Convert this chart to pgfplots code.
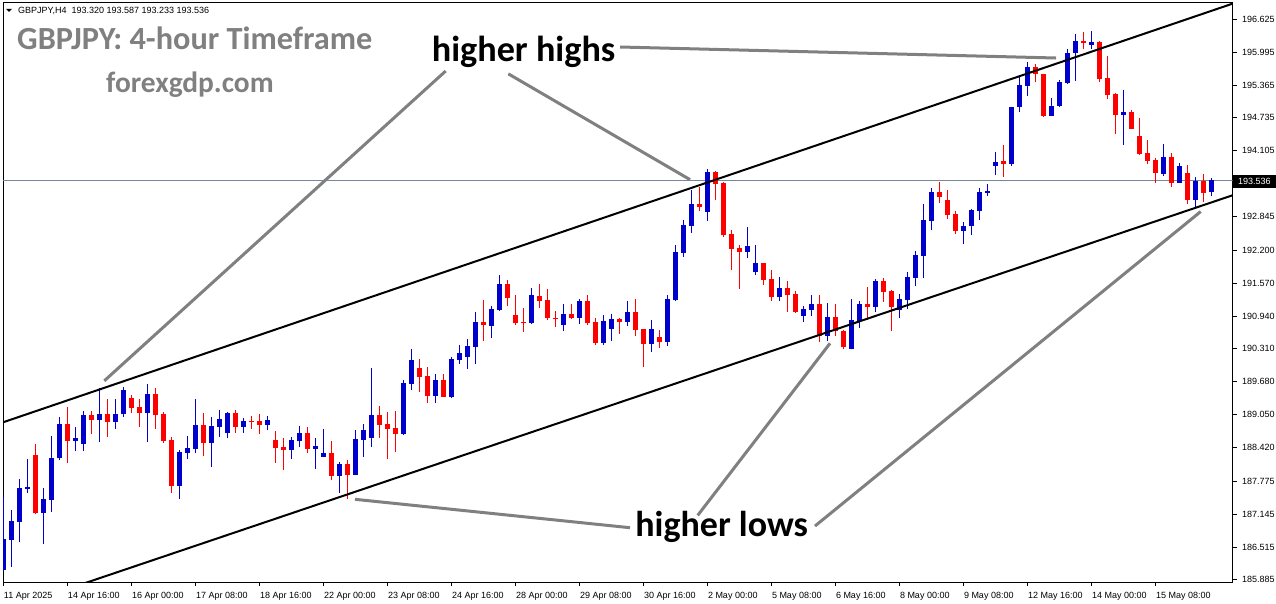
\documentclass[border=0pt]{standalone}
\usepackage{pgfplots}
\pgfplotsset{compat=1.18}
\usepackage{pgfplotstable}
\usepackage{fontspec}
\setmainfont{Liberation Sans}
\newfontfamily\carlito{Carlito}
\definecolor{bull}{RGB}{0,0,205}
\definecolor{bear}{RGB}{255,0,0}
\definecolor{ptr}{RGB}{128,128,128}
\definecolor{bid}{RGB}{119,136,153}
\newcommand\tickfont{\fontsize{9bp}{10bp}\selectfont}

\pgfplotstableread{
i o h l c
0 186.074 187.478 186.060 186.667
1 186.648 187.223 186.137 187.012
2 186.999 187.817 186.616 187.645
3 187.632 188.200 187.555 187.664
5 187.159 187.651 186.565 187.434
6 187.421 188.641 187.191 188.219
7 188.213 189.005 188.181 188.871
9 188.551 188.807 188.360 188.602
10 188.494 189.120 188.360 189.043
12 188.954 189.567 188.532 189.062
14 188.915 189.349 188.775 189.062
15 189.056 189.573 189.011 189.522
18 189.088 189.637 188.532 189.445
22 187.689 188.372 187.440 188.334
23 188.321 188.641 188.206 188.411
24 188.398 189.343 188.309 188.851
26 188.513 189.011 188.053 188.832
27 188.819 189.139 188.628 188.966
28 188.705 189.100 188.609 189.081
30 188.819 188.992 188.705 188.928
33 188.858 189.024 188.755 188.947
36 188.372 188.621 188.200 188.564
37 188.545 188.838 188.436 188.698
39 188.391 188.602 188.008 188.449
40 188.244 188.775 188.232 188.321
42 187.881 188.149 187.555 188.104
44 187.900 188.755 187.887 188.583
45 188.570 188.877 188.244 188.755
46 188.608 189.943 188.436 189.043
50 188.679 189.713 188.660 189.656
51 189.643 190.307 189.522 190.096
54 189.407 189.828 189.279 189.713
56 189.394 190.160 189.375 190.115
57 190.103 190.384 190.013 190.230
58 190.160 190.499 189.924 190.365
59 190.352 191.016 190.020 190.824
61 190.754 191.131 190.524 191.074
62 191.054 191.725 191.042 191.553
66 190.805 191.476 190.793 191.342
70 190.774 191.169 190.659 190.978
72 190.908 191.265 190.793 191.227
75 190.429 190.959 190.390 190.844
76 190.697 190.978 190.467 190.882
78 190.831 191.227 190.754 191.016
81 190.410 190.863 190.256 190.690
83 190.448 191.342 190.371 191.265
84 191.252 192.300 191.233 192.166
85 192.153 192.779 192.076 192.683
86 192.670 193.353 192.536 193.085
88 192.938 193.756 192.766 193.698
93 192.172 192.644 192.057 192.280
94 191.782 192.299 191.725 191.954
97 191.309 191.686 191.226 191.476
100 190.945 191.131 190.831 191.073
101 191.060 191.341 190.945 191.169
103 190.562 191.188 190.467 190.926
106 190.313 191.265 190.300 190.862
107 190.850 191.226 190.716 191.169
109 191.112 191.648 191.022 191.610
112 191.054 191.361 190.907 191.265
113 191.246 191.782 191.080 191.686
114 191.673 192.184 191.520 192.108
115 192.095 193.085 191.673 192.778
116 192.765 193.391 192.587 193.315
120 192.574 192.740 192.318 192.663
121 192.663 192.989 192.491 192.978
122 192.957 193.385 192.778 193.315
123 193.302 193.462 193.245 193.334
124 193.819 194.087 193.640 193.896
126 193.851 194.950 193.819 194.937
127 194.950 195.537 194.841 195.365
128 195.352 195.812 195.160 195.709
131 194.777 195.109 194.770 194.962
132 194.969 195.460 194.950 195.422
133 195.403 196.054 195.390 195.978
134 195.978 196.342 195.448 196.208
136 196.137 196.405 196.054 196.182
140 194.796 195.269 194.215 194.841
145 193.666 194.234 193.628 193.985
147 193.494 193.870 193.490 193.813
149 193.168 193.602 193.034 193.526
151 193.320 193.587 193.233 193.536
}\bull

\pgfplotstableread{
i o h l c
4 188.277 188.487 187.150 187.159
8 188.871 189.196 188.130 188.551
11 189.037 189.113 188.679 188.954
13 189.062 189.349 188.628 188.915
16 189.369 189.426 189.075 189.183
17 189.196 189.343 188.819 189.088
19 189.445 189.554 188.781 189.049
20 189.062 189.107 188.513 188.551
21 188.564 188.622 187.555 187.689
25 188.851 189.088 188.264 188.513
29 189.081 189.139 188.705 188.819
31 188.928 189.024 188.781 188.915
32 188.928 189.062 188.685 188.858
34 188.564 188.736 188.130 188.417
35 188.430 188.596 187.989 188.372
38 188.698 188.813 188.321 188.391
41 188.321 188.545 187.791 187.881
43 188.104 188.181 187.440 187.900
47 189.043 189.215 188.608 188.858
48 188.870 189.100 188.200 188.781
49 188.794 189.119 188.340 188.685
52 189.943 190.115 189.490 189.777
53 189.790 189.956 189.279 189.407
55 189.713 189.828 189.388 189.394
60 190.824 191.239 190.467 190.760
63 191.553 191.629 191.137 191.291
64 190.959 191.342 190.774 190.805
65 190.825 191.093 190.639 190.812
67 191.323 191.553 191.099 191.233
68 191.246 191.457 190.869 190.908
69 190.901 191.035 190.735 190.888
71 190.978 191.169 190.888 190.908
73 191.227 191.342 190.774 190.805
74 190.825 190.901 190.390 190.429
77 190.882 190.901 190.601 190.831
79 191.016 191.265 190.563 190.678
80 190.690 190.697 189.969 190.410
82 190.537 190.671 190.333 190.448
87 193.085 193.417 192.957 193.034
89 193.698 193.717 193.162 193.475
90 193.490 193.515 192.459 192.500
91 192.510 192.587 191.820 192.223
92 192.242 192.299 191.456 192.172
95 191.954 191.960 191.539 191.629
96 191.648 191.820 191.226 191.303
98 191.476 191.610 191.022 191.341
99 191.361 191.418 191.003 191.022
102 191.169 191.341 190.447 190.562
104 190.926 191.169 190.562 190.645
105 190.645 190.677 190.313 190.352
108 191.169 191.495 190.862 191.112
110 191.610 191.667 191.214 191.399
111 191.418 191.437 190.658 191.112
117 193.315 193.506 193.104 193.225
118 193.161 193.353 192.804 192.880
119 192.893 192.951 192.510 192.574
125 193.909 194.215 193.609 193.858
129 195.709 195.761 195.428 195.582
130 195.575 195.580 194.758 194.777
135 196.208 196.386 196.054 196.176
137 196.188 196.208 195.428 195.486
138 195.505 195.920 195.096 195.173
139 195.199 195.218 194.426 194.796
141 194.841 194.879 194.515 194.522
142 194.388 194.732 194.017 194.049
143 194.062 194.311 193.845 193.915
144 193.928 193.960 193.494 193.685
146 193.985 194.062 193.411 193.494
148 193.679 193.832 193.091 193.168
150 193.526 193.660 193.130 193.302
}\bear

\begin{document}
\begin{tikzpicture}
\path[use as bounding box] (0,0) rectangle (1276bp,604bp);
\fill[white] (0,0) rectangle (1276bp,604bp);
\begin{axis}[
  at={(3bp,22bp)}, anchor=south west,
  scale only axis, width=1229.5bp, height=579bp,
  xmin=-0.0375, xmax=153.65, ymin=185.844, ymax=196.936,
  axis line style={black, line width=1bp},
  xtick={0,8,...,144},
  xticklabels={11 Apr 2025, 14 Apr 16:00, 16 Apr 00:00, 17 Apr 08:00, 18 Apr 16:00, 22 Apr 00:00, 23 Apr 08:00, 24 Apr 16:00, 28 Apr 00:00, 29 Apr 08:00, 30 Apr 16:00, 2 May 00:00, 5 May 08:00, 6 May 16:00, 8 May 00:00, 9 May 08:00, 12 May 16:00, 14 May 00:00, 15 May 08:00},
  ytick={196.625,195.995,195.365,194.735,194.105,192.845,192.200,191.570,190.940,190.310,189.680,189.050,188.420,187.775,187.145,186.515,185.885},
  yticklabels={196.625,195.995,195.365,194.735,194.105,192.845,192.200,191.570,190.940,190.310,189.680,189.050,188.420,187.775,187.145,186.515,185.885},
  xtick pos=bottom, ytick pos=right, yticklabel pos=right,
  tick align=outside, major tick length=4bp,
  tick style={black, line width=0.8bp},
  xticklabel style={anchor=north west, inner sep=0pt, font=\tickfont, xshift=0.5bp, yshift=-6bp},
  yticklabel style={anchor=west, inner sep=0pt, font=\tickfont, xshift=5.5bp},
  clip=true,
]
% bid line
\addplot[bid, line width=0.8bp] coordinates {(-1,193.536) (160,193.536)};
% bull candles
\addplot[draw=none, mark=none, error bars/.cd, y dir=plus, y explicit, error mark=none,
  error bar style={line width=1bp, draw=bull}]
  table[x=i, y=l, y error plus expr={\thisrow{h}-\thisrow{l}}] {\bull};
\addplot[draw=none, mark=none, error bars/.cd, y dir=plus, y explicit, error mark=none,
  error bar style={line width=5bp, draw=bull}]
  table[x=i, y=o, y error plus expr={max(\thisrow{c}-\thisrow{o},0.02)}] {\bull};
% bear candles
\addplot[draw=none, mark=none, error bars/.cd, y dir=plus, y explicit, error mark=none,
  error bar style={line width=1bp, draw=bear}]
  table[x=i, y=l, y error plus expr={\thisrow{h}-\thisrow{l}}] {\bear};
\addplot[draw=none, mark=none, error bars/.cd, y dir=plus, y explicit, error mark=none,
  error bar style={line width=5bp, draw=bear}]
  table[x=i, y=c, y error plus expr={max(\thisrow{o}-\thisrow{c},0.02)}] {\bear};
% channel lines
\addplot[black, line width=2bp] coordinates {(-0.0375,188.903) (153.65,196.923)};
\addplot[black, line width=2bp] coordinates {(-0.0375,185.292) (153.65,193.252)};
% pointer lines
\addplot[ptr, line width=3bp] coordinates {(55.30,195.633) (12.625,189.698)};
\addplot[ptr, line width=3bp] coordinates {(63.125,195.579) (85.84,193.552)};
\addplot[ptr, line width=3bp] coordinates {(77.09,196.093) (131.59,195.882)};
\addplot[ptr, line width=3bp] coordinates {(43.96,187.428) (78.34,186.884)};
\addplot[ptr, line width=3bp] coordinates {(86.80,187.120) (103.34,190.416)};
\addplot[ptr, line width=3bp] coordinates {(101.46,186.916) (149.68,192.941)};
\end{axis}
\begin{scope}[shift={(0bp,604bp)}, x=1bp, y=-1bp]
  \fill[black] (6,9) -- (12,9) -- (9,12) -- cycle;
  \node[anchor=base west, inner sep=0pt, font=\tickfont] at (18,14) {GBPJPY,H4\hspace{5bp}193.320 193.587 193.233 193.536};
  \node[anchor=base west, inner sep=0pt, text=ptr, font=\carlito\bfseries\fontsize{32.3bp}{34bp}\selectfont] at (17,50) {GBPJPY: 4-hour Timeframe};
  \node[anchor=base west, inner sep=0pt, text=ptr, font=\carlito\bfseries\fontsize{29.4bp}{31bp}\selectfont] at (106,93) {forexgdp.com};
  \node[anchor=base, inner sep=0pt, font=\carlito\bfseries\fontsize{36.2bp}{38bp}\selectfont] at (523.6,61.5) {higher highs};
  \node[anchor=base, inner sep=0pt, font=\carlito\bfseries\fontsize{36bp}{38bp}\selectfont] at (721.7,536.5) {higher lows};
  \fill[black] (1233,175) rectangle (1276,188);
  \node[anchor=west, inner sep=0pt, text=white, font=\tickfont] at (1238,181.5) {193.536};
\end{scope}
\end{tikzpicture}
\end{document}
